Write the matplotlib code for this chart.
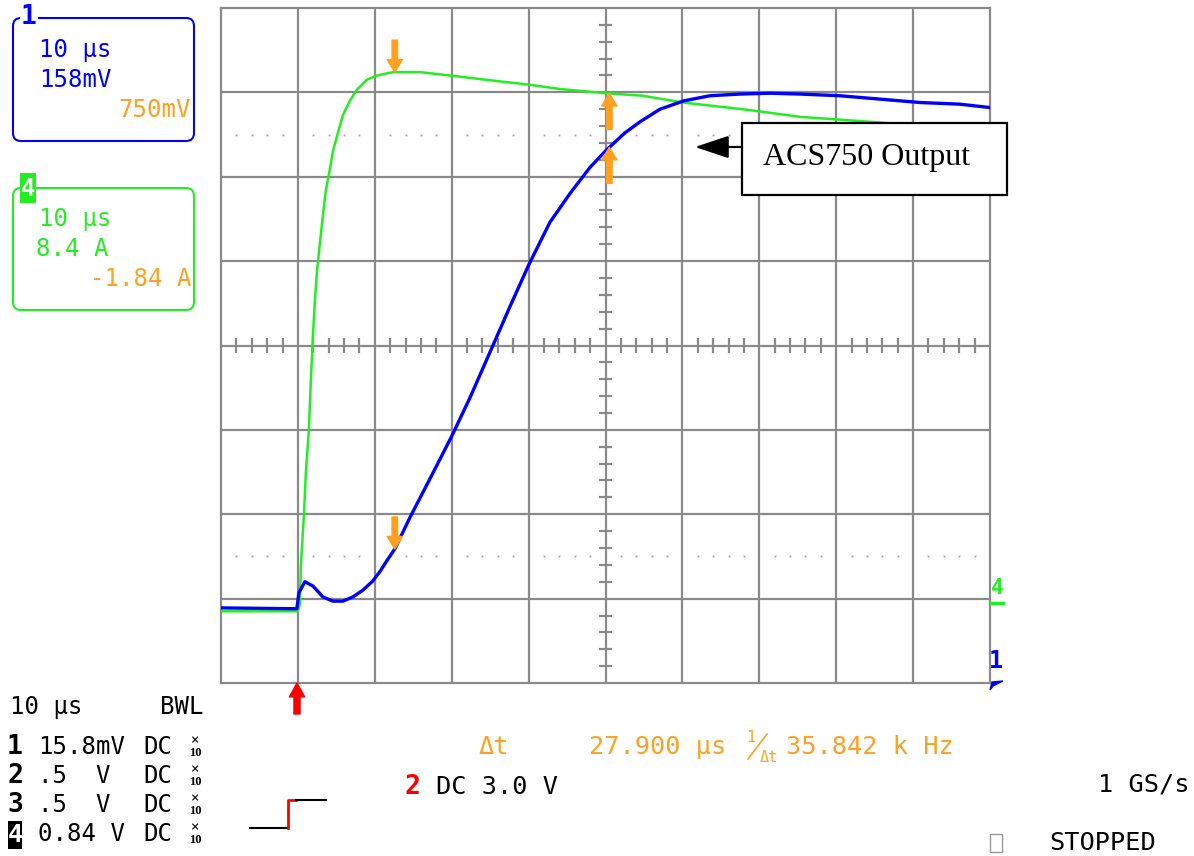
import matplotlib
matplotlib.use('Agg')
import matplotlib.pyplot as plt
import numpy as np
from matplotlib.patches import FancyBboxPatch, Rectangle, Polygon

# time in us (10 us/div, trigger at 0), traces in screen divisions
t_blue = [-10.0, -0.13, 0.13, 0.91, 1.95, 3.25, 4.55, 5.85, 7.15, 8.45, 9.75, 10.66, 11.57,
          12.61, 14.56, 17.17, 20.03, 22.37, 25.36, 27.57, 30.04, 32.77, 35.37, 37.97, 40.05,
          42.52, 44.47, 47.07, 50.20, 53.58, 57.48, 61.38, 65.28, 70.48, 75.68, 80.88, 86.09, 90.0]
v_blue = [-3.11, -3.12, -2.93, -2.80, -2.85, -2.98, -3.03, -3.03, -2.98, -2.90, -2.79, -2.68, -2.55,
          -2.41, -2.04, -1.58, -1.07, -0.62, 0.00, 0.46, 0.96, 1.46, 1.80, 2.11, 2.31,
          2.52, 2.65, 2.80, 2.90, 2.96, 2.98, 2.99, 2.98, 2.96, 2.92, 2.88, 2.86, 2.82]

t_green = [-10.0, 0.0, 0.26, 0.39, 0.78, 1.04, 1.43, 1.69, 1.95, 2.21, 2.47, 2.86, 3.25, 3.64,
           4.16, 4.55, 5.20, 5.85, 6.76, 7.67, 8.97, 10.27, 12.35, 15.86, 19.77, 26.27, 30.17,
           34.07, 40.05, 44.86, 50.07, 58.78, 65.28, 73.08, 80.88, 90.0]
v_green = [-3.15, -3.15, -3.06, -2.60, -2.01, -1.50, -0.99, -0.40, 0.11, 0.53, 0.87, 1.21, 1.54, 1.84,
           2.09, 2.30, 2.52, 2.73, 2.90, 3.03, 3.15, 3.20, 3.24, 3.24, 3.20, 3.13, 3.09,
           3.04, 2.99, 2.96, 2.88, 2.79, 2.71, 2.66, 2.61, 2.56]

cursor_t = [12.6, 40.5]
cursor_levels = [2.49, -2.50]

BLUE = '#0000ff'
GREEN = '#22ee22'
ORANGE = '#ffa020'
GRID = '#8a8a8a'
MONO = 'DejaVu Sans Mono'
FS = 17.3      # left side status text
FS_R = 18.2    # right side status text

W, H = 1194, 856
fig = plt.figure(figsize=(W / 100, H / 100), dpi=100)
fig.patch.set_facecolor('white')

x0, x1, y0, y1 = 221, 990, 8, 683
ax = fig.add_axes([x0 / W, 1 - y1 / H, (x1 - x0) / W, (y1 - y0) / H])
ax.set_xlim(-10, 90)
ax.set_ylim(-4, 4)
ax.set_xticks([])
ax.set_yticks([])
for s in ax.spines.values():
    s.set_color(GRID)
    s.set_linewidth(1.6)

# graticule
for t in range(0, 90, 10):
    ax.axvline(t, color=GRID, lw=1.6, zorder=1)
for v in range(-3, 4):
    ax.axhline(v, color=GRID, lw=1.6, zorder=1)
minor_t = [t for t in np.arange(-8, 90, 2) if t % 10 != 0]
ax.vlines(minor_t, -0.085, 0.085, color=GRID, lw=1.6, zorder=1)
minor_v = [v for v in np.arange(-3.8, 4, 0.2) if abs(v - round(v)) > 0.01]
ax.hlines(minor_v, 40 - 0.9, 40 + 0.9, color=GRID, lw=1.6, zorder=1)

# dotted cursor levels
for lev in cursor_levels:
    ax.plot(minor_t, [lev] * len(minor_t), ls='none', marker='s', ms=1.3,
            mew=0, color='#a0a0a0', zorder=1)

# traces
ax.plot(t_green, v_green, color=GREEN, lw=1.8, zorder=3)
ax.plot(t_blue, v_blue, color=BLUE, lw=2.4, zorder=4)

# cursor markers
arrow_kw = dict(arrowstyle='simple,head_length=0.45,head_width=0.55,tail_width=0.2',
                color=ORANGE, mutation_scale=20, shrinkA=0, shrinkB=0)
for tr_t, tr_v in [(t_green, v_green), (t_blue, v_blue)]:
    v1 = np.interp(cursor_t[0], tr_t, tr_v)
    ax.annotate('', xy=(cursor_t[0], v1), xytext=(0, 32), textcoords='offset pixels',
                arrowprops=arrow_kw, zorder=5)
    v2 = np.interp(cursor_t[1], tr_t, tr_v)
    ax.annotate('', xy=(cursor_t[1], v2), xytext=(0, -36), textcoords='offset pixels',
                arrowprops=arrow_kw, zorder=5)

# overlay in pixel coordinates for the scope annotations
ov = fig.add_axes([0, 0, 1, 1])
ov.set_xlim(0, W)
ov.set_ylim(H, 0)
ov.axis('off')
ov.patch.set_alpha(0)

# channel info boxes
ov.add_patch(FancyBboxPatch((13, 18), 181, 123, boxstyle='round,pad=0,rounding_size=8',
                            fc='none', ec=BLUE, lw=1.5))
ov.text(21, 17, '1', color=BLUE, fontsize=19, fontweight='bold', family=MONO,
        ha='left', va='center', bbox=dict(fc='white', ec='none', pad=0.5))
ov.text(39, 50, '10 µs', color=BLUE, fontsize=FS, family=MONO, va='center')
ov.text(39, 80, '158mV', color=BLUE, fontsize=FS, family=MONO, va='center')
ov.text(191, 110, '750mV', color=ORANGE, fontsize=FS, family=MONO, va='center', ha='right')

ov.add_patch(FancyBboxPatch((13, 188), 181, 122, boxstyle='round,pad=0,rounding_size=8',
                            fc='none', ec=GREEN, lw=1.5))
ov.add_patch(Rectangle((20, 173), 16, 30, fc=GREEN, ec='none'))
ov.text(28, 189, '4', color='white', fontsize=17, fontweight='bold', family=MONO,
        ha='center', va='center')
ov.text(39, 219, '10 µs', color=GREEN, fontsize=FS, family=MONO, va='center')
ov.text(36, 249, '8.4 A', color=GREEN, fontsize=FS, family=MONO, va='center')
ov.text(191, 279, '-1.84 A', color=ORANGE, fontsize=FS, family=MONO, va='center', ha='right')

# right side channel markers
ov.text(997, 588, '4', color=GREEN, fontsize=15, fontweight='bold', family=MONO,
        ha='center', va='center')
ov.plot([991, 1003], [603, 603], color=GREEN, lw=2.5)
ov.text(996, 661, '1', color=BLUE, fontsize=17, fontweight='bold', family=MONO,
        ha='center', va='center')
ov.add_patch(Polygon([(990, 690), (992, 682), (1003, 681), (993, 686)], closed=True,
                     fc=BLUE, ec=BLUE))

# label box for ACS750 output
ov.add_patch(Rectangle((742, 123), 265, 72, fc='white', ec='black', lw=1.6, zorder=6))
ov.text(763, 157, 'ACS750 Output', family='Liberation Serif', fontsize=23,
        ha='left', va='center', zorder=7)
ov.annotate('', xy=(695, 147), xytext=(742, 147),
            arrowprops=dict(arrowstyle='-|>,head_length=1.5,head_width=0.5',
                            color='black', lw=1.6, mutation_scale=14,
                            shrinkA=0, shrinkB=0), zorder=7)

# trigger marker
ov.annotate('', xy=(297, 683), xytext=(297, 714),
            arrowprops=dict(arrowstyle='simple,head_length=0.5,head_width=0.55,tail_width=0.22',
                            color='#ff0000', mutation_scale=20, shrinkA=0, shrinkB=0))

# bottom status area
ov.text(10, 707, '10 µs', fontsize=FS, family=MONO, va='center')
ov.text(204, 707, 'BWL', fontsize=FS, family=MONO, va='center', ha='right')

rows = [('1', '15.8mV', 747), ('2', '.5  V', 776), ('3', '.5  V', 805), ('4', '0.84 V', 834)]
for num, txt, y in rows:
    if num == '4':
        ov.add_patch(Rectangle((8, 821), 14, 28, fc='black', ec='none'))
        ov.text(15, y + 1, num, color='white', fontsize=18, fontweight='bold', family=MONO,
                ha='center', va='center')
    else:
        ov.text(15, y, num, color='black', fontsize=19, fontweight='bold', family=MONO,
                ha='center', va='center')
    ov.text(38, y, txt, fontsize=FS, family=MONO, va='center')
    ov.text(143, y, 'DC', fontsize=FS, family=MONO, va='center')
    ov.text(195, y - 7, '×', fontsize=10, family=MONO, va='center', ha='center')
    ov.text(195, y + 6, '10', fontsize=9, fontweight='bold', family='Liberation Serif',
            va='center', ha='center')

ov.text(479, 747, 'Δt', color=ORANGE, fontsize=FS_R, family=MONO, va='center')
ov.text(589, 747, '27.900 µs', color=ORANGE, fontsize=FS_R, family=MONO, va='center')
ov.text(751, 738, '1', color=ORANGE, fontsize=11, family=MONO, va='center', ha='center')
ov.plot([748, 767], [759, 734], color=ORANGE, lw=1.2)
ov.text(769, 757, 'Δt', color=ORANGE, fontsize=11, family=MONO, va='center', ha='center')
ov.text(786, 747, '35.842 k Hz', color=ORANGE, fontsize=FS_R, family=MONO, va='center')

ov.plot([250, 288], [828, 828], color='black', lw=1.5)
ov.plot([288, 288, 296], [828, 800, 800], color='#ff0000', lw=2)
ov.plot([296, 326], [800, 800], color='black', lw=1.5)
ov.text(405, 787, '2', color='#ff0000', fontsize=19, fontweight='bold', family=MONO, va='center')
ov.text(436, 787, 'DC 3.0 V', fontsize=FS_R, family=MONO, va='center')

ov.text(1190, 785, '1 GS/s', fontsize=FS_R, family=MONO, va='center', ha='right')
ov.add_patch(Rectangle((990, 834), 12, 18, fc='none', ec='#999999', lw=1))
ov.text(1049, 843, 'STOPPED', fontsize=FS_R, family=MONO, va='center')

fig.savefig('out.png', dpi=100)
